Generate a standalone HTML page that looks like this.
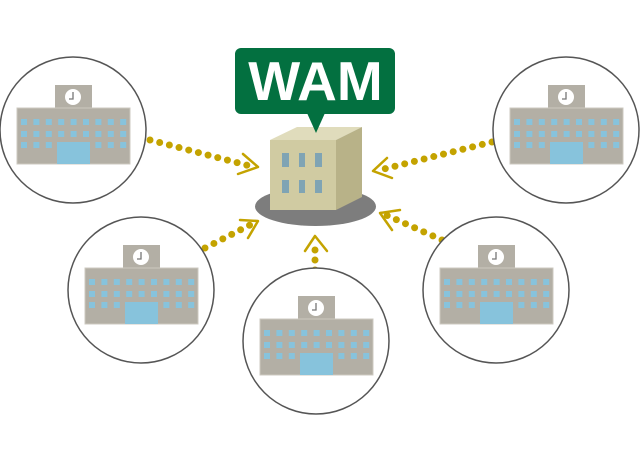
<!DOCTYPE html>
<html><head><meta charset="utf-8"><style>
html,body{margin:0;padding:0;background:#fff;width:640px;height:464px;overflow:hidden}
</style></head><body>
<svg width="640" height="464" viewBox="0 0 640 464" xmlns="http://www.w3.org/2000/svg">
<defs>
<g id="school">
  <circle r="73" fill="#fff" stroke="#555" stroke-width="1.5"/>
  <rect x="-18" y="-45" width="37" height="24" fill="#b3afa5"/>
  <circle cx="0" cy="-33" r="8" fill="#fff"/>
  <path d="M0,-38 V-31 H-4" stroke="#777" stroke-width="1.3" fill="none"/>
  <rect x="-56" y="-22" width="113" height="56" fill="#b3afa5" stroke="#ccc9c0" stroke-width="1"/>
  <g fill="#87c3dc">
    <rect x="-52" y="-11" width="6" height="6"/><rect x="-39.6" y="-11" width="6" height="6"/><rect x="-27.2" y="-11" width="6" height="6"/><rect x="-14.8" y="-11" width="6" height="6"/><rect x="-2.4" y="-11" width="6" height="6"/><rect x="10" y="-11" width="6" height="6"/><rect x="22.4" y="-11" width="6" height="6"/><rect x="34.8" y="-11" width="6" height="6"/><rect x="47.2" y="-11" width="6" height="6"/>
    <rect x="-52" y="1" width="6" height="6"/><rect x="-39.6" y="1" width="6" height="6"/><rect x="-27.2" y="1" width="6" height="6"/><rect x="-14.8" y="1" width="6" height="6"/><rect x="-2.4" y="1" width="6" height="6"/><rect x="10" y="1" width="6" height="6"/><rect x="22.4" y="1" width="6" height="6"/><rect x="34.8" y="1" width="6" height="6"/><rect x="47.2" y="1" width="6" height="6"/>
    <rect x="-52" y="12" width="6" height="6"/><rect x="-39.6" y="12" width="6" height="6"/><rect x="-27.2" y="12" width="6" height="6"/><rect x="22.4" y="12" width="6" height="6"/><rect x="34.8" y="12" width="6" height="6"/><rect x="47.2" y="12" width="6" height="6"/>
    <rect x="-16" y="12" width="33" height="22"/>
  </g>
</g>
</defs>

<g stroke="#c4a300" fill="none" stroke-linecap="round">
  <g stroke-width="7" stroke-dasharray="0 10">
    <line x1="150" y1="140" x2="250" y2="166"/>
    <line x1="205" y1="248" x2="252" y2="224"/>
    <line x1="315" y1="270" x2="315" y2="242"/>
    <line x1="442" y1="240" x2="386" y2="215"/>
    <line x1="492" y1="142" x2="380" y2="170"/>
  </g>
  <g stroke-width="2.5" stroke-linejoin="round">
    <polyline points="243,154 258,167 238,174"/>
    <polyline points="240,220 258,221 248,238"/>
    <polyline points="305,251 315,236 327,251"/>
    <polyline points="400,210 380,213 392,230"/>
    <polyline points="387,158 373,171 392,178"/>
  </g>
</g>

<use href="#school" x="73" y="130"/>
<use href="#school" x="141" y="290"/>
<use href="#school" x="316" y="341"/>
<use href="#school" x="496" y="290"/>
<use href="#school" x="566" y="130"/>

<ellipse cx="315.5" cy="206.5" rx="60.5" ry="19.5" fill="#7d7d7d"/>
<polygon points="270,140 297,127 362,127 336,140" fill="#e0dcbc"/>
<polygon points="336,140 362,127 362,197 336,210" fill="#b8b288"/>
<rect x="270" y="140" width="66" height="70" fill="#d0cba2"/>
<g fill="#7fa4b4">
  <rect x="282" y="153" width="7" height="14"/><rect x="299" y="153" width="6" height="14"/><rect x="315" y="153" width="7" height="14"/>
  <rect x="282" y="180" width="7" height="13"/><rect x="299" y="180" width="6" height="13"/><rect x="315" y="180" width="7" height="13"/>
</g>

<rect x="235" y="48" width="160" height="66" rx="6" fill="#037040"/>
<polygon points="307,113 325,113 316,133" fill="#037040"/>
<text x="315.5" y="100" text-anchor="middle" font-family="Liberation Sans, sans-serif" font-weight="bold" font-size="55" fill="#fff">WAM</text>
</svg>
</body></html>
